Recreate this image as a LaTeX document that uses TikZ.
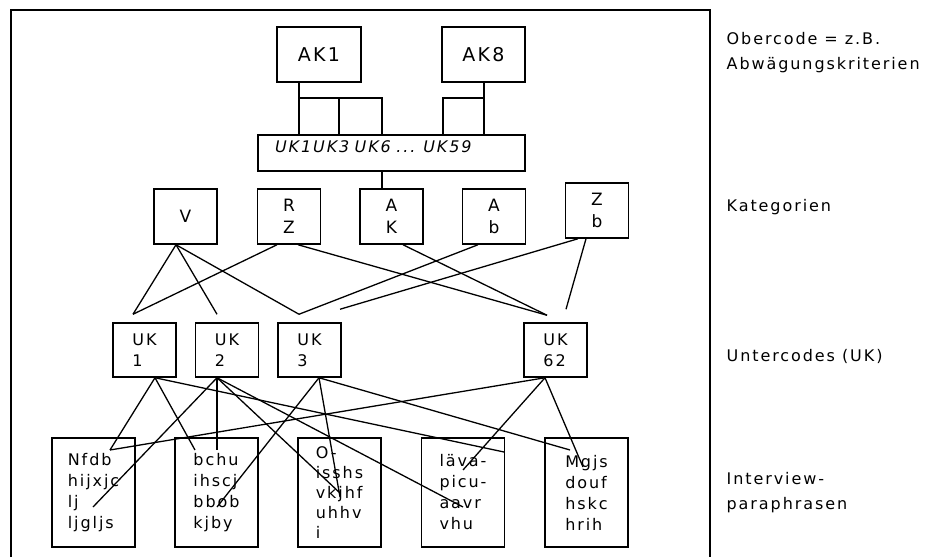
\documentclass[tikz,border=0pt]{standalone}
\usepackage{fontspec}
\setmainfont{DejaVu Sans}[LetterSpace=12]
\usepackage{tikz}
\usetikzlibrary{calc}

\begin{document}
\begin{tikzpicture}[x=1pt, y=-1pt, line width=1.3pt,
	every node/.style = {inner sep=0pt},
	akbox/.style = {draw, line width=1.5pt, minimum width=84pt, minimum height=55pt, font=\fontsize{19}{22}\selectfont},
	barbox/.style = {draw, line width=1.5pt, minimum height=36pt, text width=233pt, inner xsep=17pt, text depth=12pt, align=left, font=\fontsize{16}{21}\selectfont},
	catbox/.style = {draw, line width=1.5pt, minimum width=63pt, minimum height=55pt, align=center, font=\fontsize{17}{22}\selectfont},
	ukbox/.style = {draw, line width=1.5pt, minimum width=63pt, minimum height=54pt, align=left, font=\fontsize{16}{21}\selectfont},
	phrasebox/.style = {draw, line width=1.5pt, minimum width=83pt, minimum height=109pt, align=left, font=\fontsize{16}{21}\selectfont},
	sidelabel/.style = {align=left, font=\fontsize{16}{25}\selectfont}]
\useasboundingbox (0,0) rectangle (929,559);
\draw[line width=1.5pt] (11,557) -- (11,10) -- (710,10) -- (710,557);

% Obercodes
\node[akbox] (ak1) at (319,54.5) {AK1};
\node[akbox, minimum width=83pt] (ak8) at (483.5,54.5) {AK8};
\node[barbox] (ukbar) at (391.5,153) {\itshape UK1UK3 UK6 ... UK59};

% Kategorien
\node[catbox] (cv) at (185.5,216.5) {V};
\node[catbox] (crz) at (289,216.5) {R\\Z};
\node[catbox] (cak) at (391.5,216.5) {A\\K};
\node[catbox] (cab) at (494,216.5) {A\\b};
\node[catbox] (czb) at (597,210.5) {Z\\b};

% Untercodes
\node[ukbox] (uk1) at (144.5,350) {UK\\1};
\node[ukbox] (uk2) at (227,350) {UK\\2};
\node[ukbox] (uk3) at (309.5,350) {UK\\3};
\node[ukbox] (uk62) at (555.5,350) {UK\\62};

% Interview-Paraphrasen
\node[phrasebox] (ip1) at (93.5,492.5) {Nfdb\\hijxjc\\lj\\ljgljs};
\node[phrasebox] (ip2) at (216.5,492.5) {bchu\\ihscj\\bbob\\kjby};
\node[phrasebox, font=\fontsize{16}{20}\selectfont] (ip3) at (339.5,492.5) {O-\\isshs\\vkjhf\\uhhv\\i};
\node[phrasebox] (ip4) at (463,492.5) {läva-\\picu-\\aavr\\vhu};
\node[phrasebox] (ip5) at (586.5,492.5) {Mgjs\\douf\\hskc\\hrih};

% Beschriftung rechts
\node[sidelabel, anchor=west] (l1) at (726,53) {Obercode = z.B.\\Abwägungskriterien};
\node[sidelabel, anchor=base west] (l2) at (726,211) {Kategorien};
\node[sidelabel, anchor=base west] (l3) at (726,361) {Untercodes (UK)};
\node[sidelabel, anchor=west] (l4) at (726,492.3) {Interview-\\paraphrasen};

% Baum oben
\coordinate (j1) at (299,98);
\coordinate (j2) at (339,98);
\coordinate (j3) at (382,98);
\coordinate (j4) at (443,98);
\coordinate (j5) at (484,98);
\draw (ak1.south -| j1) -- (j1 |- ukbar.north);
\draw (j1) -- (j3) -- (j3 |- ukbar.north);
\draw (j2) -- (j2 |- ukbar.north);
\draw (ak8.south -| j5) -- (j5 |- ukbar.north);
\draw (j5) -- (j4) -- (j4 |- ukbar.north);
\draw (ukbar.south -| j3) -- (cak.north -| j3);

% Kategorien -> Untercodes
\coordinate (cv out) at ($(cv.south)+(-9.5,0)$);
\coordinate (crz out) at ($(crz.south)+(-12,0)$);
\coordinate (crz out2) at ($(crz.south)+(9,0)$);
\coordinate (cak out) at ($(cak.south)+(11.5,0)$);
\coordinate (cab out) at ($(cab.south)+(-16,0)$);
\coordinate (czb out) at ($(czb.south)+(-19,0)$);
\coordinate (czb out2) at ($(czb.south)+(-11,0)$);
\coordinate (uk1 in) at ($(uk1.north)+(-11.5,-8)$);
\coordinate (uk2 in) at ($(uk2.north)+(-10,-8)$);
\coordinate (uk3 in) at ($(uk3.north)+(-10.5,-8)$);
\coordinate (uk3 in2) at ($(uk3.north)+(30.5,-13)$);
\coordinate (uk62 in) at ($(uk62.north)+(-8.5,-7)$);
\coordinate (uk62 in2) at ($(uk62.north)+(10.5,-13)$);
\draw (cv out) -- (uk1 in);
\draw (cv out) -- (uk2 in);
\draw (cv out) -- (uk3 in);
\draw (crz out) -- (uk1 in);
\draw (crz out2) -- (uk62 in);
\draw (cak out) -- (uk62 in);
\draw (cab out) -- (uk3 in);
\draw (czb out) -- (uk3 in2);
\draw (czb out2) -- (uk62 in2);

% Untercodes -> Paraphrasen
\coordinate (uk1 out) at ($(uk1.south)+(10.5,0)$);
\coordinate (uk2 out) at ($(uk2.south)+(-10,0)$);
\coordinate (uk3 out) at ($(uk3.south)+(9.5,0)$);
\coordinate (uk62 out) at ($(uk62.south)+(-10.5,0)$);
\coordinate (ip1 a) at ($(ip1)+(16.5,-42.5)$);
\coordinate (ip1 b) at ($(ip1)+(-0.5,14.5)$);
\coordinate (ip2 a) at ($(ip2)+(-21.5,-42.5)$);
\coordinate (ip2 b) at ($(ip2)+(0.5,-42.5)$);
\coordinate (ip2 c) at ($(ip2)+(0.5,14.5)$);
\coordinate (ip3 a) at ($(ip3)+(0.5,0.5)$);
\coordinate (ip3 b) at ($(ip3)+(0.5,4.5)$);
\coordinate (ip4 a) at ($(ip4)+(41,-40.5)$);
\coordinate (ip4 b) at ($(ip4)+(0,-22.5)$);
\coordinate (ip4 c) at ($(ip4)+(0,14.5)$);
\coordinate (ip5 a) at ($(ip5)+(-16.5,-42.5)$);
\coordinate (ip5 b) at ($(ip5)+(-3.5,-25.5)$);
\draw (uk1 out) -- (ip1 a);
\draw (uk1 out) -- (ip2 a);
\draw (uk1 out) -- (ip4 a);
\draw (uk2 out) -- (ip2 b);
\draw (uk2 out) -- (ip1 b);
\draw (uk2 out) -- (ip3 a);
\draw (uk2 out) -- (ip4 c);
\draw (uk3 out) -- (ip2 c);
\draw (uk3 out) -- (ip3 b);
\draw (uk3 out) -- (ip5 a);
\draw (uk62 out) -- (ip1 a);
\draw (uk62 out) -- (ip4 b);
\draw (uk62 out) -- (ip5 b);
\end{tikzpicture}
\end{document}
